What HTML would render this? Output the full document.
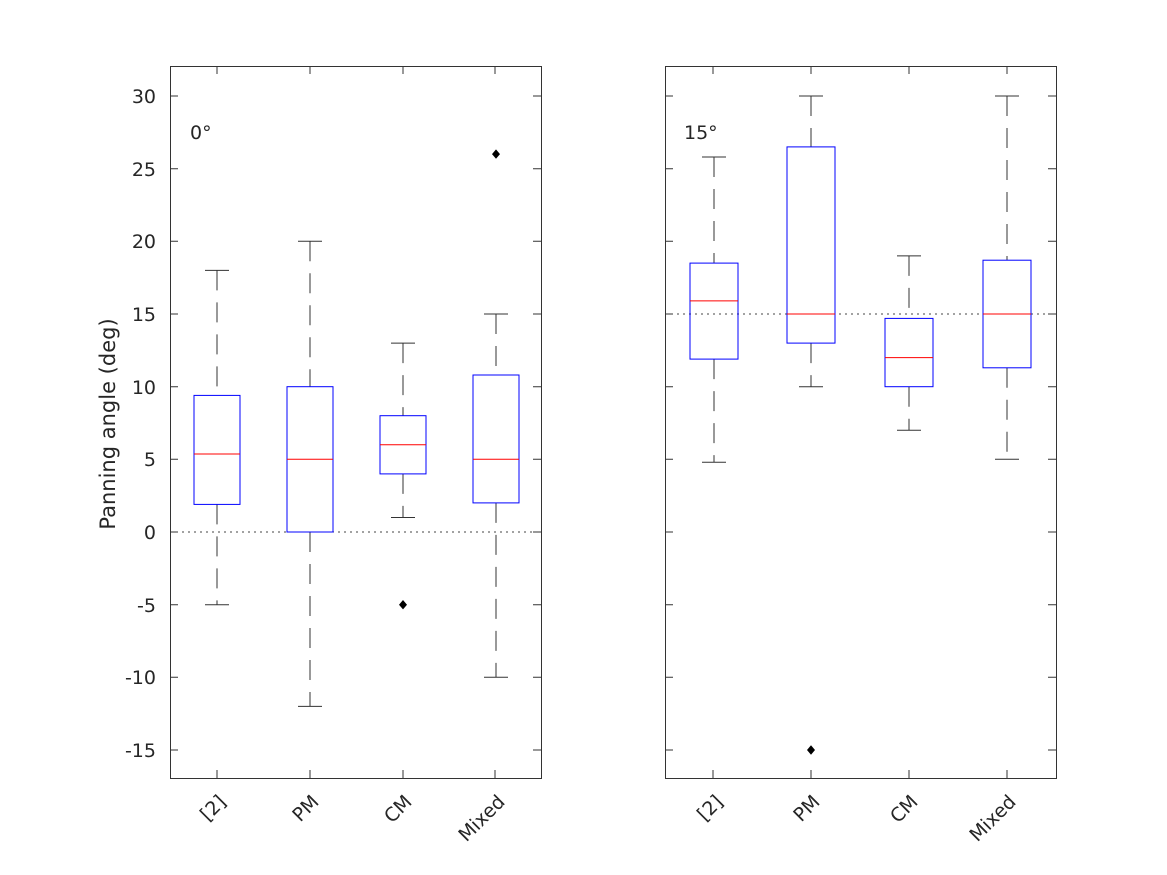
<!DOCTYPE html>
<html><head><style>body{margin:0;background:#fff}svg{display:block}text{font-family:"DejaVu Sans",sans-serif;fill:#262626}</style></head><body>
<svg width="1167" height="875" viewBox="0 0 1167 875" xmlns="http://www.w3.org/2000/svg">
<g>
<line x1="170" y1="532" x2="541" y2="532" stroke="#444" stroke-dasharray="2 4"/>
<g stroke="#333" fill="none">
<rect x="170.5" y="66.5" width="371" height="712"/>
<path d="M170 96h8M170 168.7h8M170 241.3h8M170 314h8M170 386.7h8M170 459.3h8M170 532h8M170 604.7h8M170 677.3h8M170 750h8M541 96h-8M541 168.7h-8M541 241.3h-8M541 314h-8M541 386.7h-8M541 459.3h-8M541 532h-8M541 604.7h-8M541 677.3h-8M541 750h-8"/>
<path d="M217 778v-8M310 778v-8M403 778v-8M495 778v-8M217 66v8M310 66v8M403 66v8M495 66v8"/>
</g>
<g stroke="#333" stroke-dasharray="20 12" fill="none">
<path d="M217 270.4V395.4M217 504.4V604.7M310 241.3V386.7M310 532V706.4M403 343.1V415.7M403 473.9V517.5M496 314V375M496 502.9V677.3"/>
</g>
<g stroke="#333"><path d="M205 270.4h24M205 604.7h24M298 241.3h24M298 706.4h24M391 343.1h24M391 517.5h24M484 314h24M484 677.3h24"/></g>
<g stroke="#00f" fill="none"><rect x="194" y="395.4" width="46" height="109"/><rect x="287" y="386.7" width="46" height="145.3"/><rect x="380" y="415.7" width="46" height="58.2"/><rect x="473" y="375" width="46" height="127.9"/></g>
<line x1="194" y1="454" x2="240" y2="454" stroke="#ff0000"/>
<line x1="287" y1="459.3" x2="333" y2="459.3" stroke="#ff0000"/>
<line x1="380" y1="444.8" x2="426" y2="444.8" stroke="#ff0000"/>
<line x1="473" y1="459.3" x2="519" y2="459.3" stroke="#ff0000"/>
<g fill="#000"><path d="M403 600l4 4.7-4 4.7-4-4.7zM496 149.4l4 4.7-4 4.7-4-4.7z"/></g>
<text x="190" y="139" font-size="19">0°</text>
<g font-size="19" text-anchor="end">
<text x="156" y="103">30</text><text x="156" y="176">25</text><text x="156" y="248">20</text><text x="156" y="321">15</text><text x="156" y="394">10</text><text x="156" y="466">5</text><text x="156" y="539">0</text><text x="156" y="612">-5</text><text x="156" y="684">-10</text><text x="156" y="757">-15</text>
</g>
<text transform="translate(115,424) rotate(-90)" font-size="21" text-anchor="middle">Panning angle (deg)</text>
<g font-size="19" text-anchor="end">
<text transform="translate(227,803) rotate(-45)">[2]</text>
<text transform="translate(320,803) rotate(-45)">PM</text>
<text transform="translate(413,803) rotate(-45)">CM</text>
<text transform="translate(506,803) rotate(-45)">Mixed</text>
</g>
</g>
<g>
<line x1="665" y1="314" x2="1056" y2="314" stroke="#444" stroke-dasharray="2 4"/>
<g stroke="#333" fill="none">
<rect x="665.5" y="66.5" width="391" height="712"/>
<path d="M665 96h8M665 168.7h8M665 241.3h8M665 314h8M665 386.7h8M665 459.3h8M665 532h8M665 604.7h8M665 677.3h8M665 750h8M1056 96h-8M1056 168.7h-8M1056 241.3h-8M1056 314h-8M1056 386.7h-8M1056 459.3h-8M1056 532h-8M1056 604.7h-8M1056 677.3h-8M1056 750h-8"/>
<path d="M713 778v-8M811 778v-8M909 778v-8M1007 778v-8M713 66v8M811 66v8M909 66v8M1007 66v8"/>
</g>
<g stroke="#333" stroke-dasharray="20 12" fill="none">
<path d="M714 157V263.1M714 359.1V462.2M811 96V146.9M811 343.1V386.7M909 255.9V318.4M909 386.7V430.3M1007 96V260.2M1007 367.8V459.3"/>
</g>
<g stroke="#333"><path d="M702 157h24M702 462.2h24M799 96h24M799 386.7h24M897 255.9h24M897 430.3h24M995 96h24M995 459.3h24"/></g>
<g stroke="#00f" fill="none"><rect x="690" y="263.1" width="48" height="96"/><rect x="787" y="146.9" width="48" height="196.2"/><rect x="885" y="318.4" width="48" height="68.3"/><rect x="983" y="260.2" width="48" height="107.6"/></g>
<line x1="690" y1="300.9" x2="738" y2="300.9" stroke="#ff0000"/>
<line x1="787" y1="314" x2="835" y2="314" stroke="#ff0000"/>
<line x1="885" y1="357.6" x2="933" y2="357.6" stroke="#ff0000"/>
<line x1="983" y1="314" x2="1031" y2="314" stroke="#ff0000"/>
<path d="M811 745.3l4 4.7-4 4.7-4-4.7z" fill="#000"/>
<text x="684" y="139" font-size="19">15°</text>
<g font-size="19" text-anchor="end">
<text transform="translate(724,803) rotate(-45)">[2]</text>
<text transform="translate(821,803) rotate(-45)">PM</text>
<text transform="translate(919,803) rotate(-45)">CM</text>
<text transform="translate(1017,803) rotate(-45)">Mixed</text>
</g>
</g>
</svg>
</body></html>
